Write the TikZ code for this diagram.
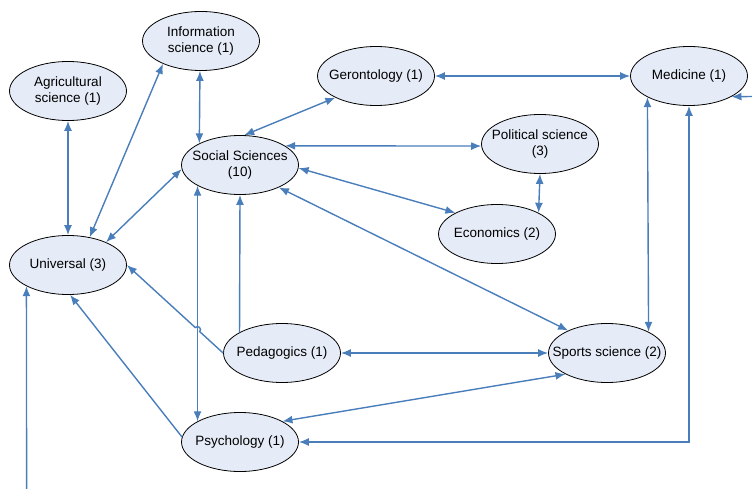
\documentclass[tikz,border=0pt]{standalone}
\usepackage{fontspec}
\setmainfont{Liberation Sans}
\usepackage{xcolor}
\definecolor{linkblue}{RGB}{74,126,187}
\definecolor{topicfill}{RGB}{230,236,247}
\usetikzlibrary{arrows.meta,shapes.geometric,calc}

\begin{document}
\begin{tikzpicture}[x=1pt,y=-1pt,>={Latex[length=10pt,width=8pt]},
    topic/.style={ellipse,draw=black,line width=0.8pt,fill=topicfill,minimum width=117pt,minimum height=59pt,inner xsep=-25pt,inner ysep=-12pt,align=center,font=\fontsize{13.5}{16}\selectfont},
    link/.style={draw=linkblue,line width=1.4pt}]

    \useasboundingbox (0,0) rectangle (752,489);

    \node[topic] (info) at (201,41) {Information\\science (1)};
    \node[topic] (agri) at (68,91) {Agricultural\\science (1)};
    \node[topic] (geron) at (376,76) {Gerontology (1)};
    \node[topic] (med) at (689,76) {Medicine (1)};
    \node[topic] (pol) at (540,144) {Political science\\(3)};
    \node[topic] (soc) at (240,165) {Social Sciences\\(10)};
    \node[topic] (econ) at (497,234) {Economics (2)};
    \node[topic] (univ) at (68,265) {Universal (3)};
    \node[topic] (ped) at (282,353) {Pedagogics (1)};
    \node[topic] (sport) at (607,353) {Sports science (2)};
    \node[topic] (psych) at (240,442) {Psychology (1)};

    % two-way links
    \foreach \a/\b in {agri.south/univ.north, info.211/univ.52, info.268/soc.152,
        soc.184/univ.31, soc.82/geron.208, soc.23/pol.182, soc.357/econ.153,
        soc.330/sport.150, pol.south/econ.27, geron.east/med.west, med.207/sport.27,
        soc.206/psych.154, ped.east/sport.west, sport.207/psych.26}{
        \path (\a) edge[link,<->] (\b);
    }

    % one-way links
    \path (ped.154) edge[link,->] (soc.south);
    \path (psych.175) edge[link,->] (univ.274);
    \coordinate (hopA) at ($(ped.west)!0.243!(univ.east)$);
    \draw[link,->] (ped.west) -- (hopA) arc[start angle=42.4,end angle=-137.6,radius=3] -- (univ.east);
    \draw[link,<->] (psych.east) -| (med.south);

    \coordinate (medfeed) at (752,96.5);
    \coordinate (univfeed) at (26.6,489);
    \path (medfeed) edge[link,->] (med.334);
    \path (univfeed) edge[link,->] (univ.207);

\end{tikzpicture}
\end{document}
